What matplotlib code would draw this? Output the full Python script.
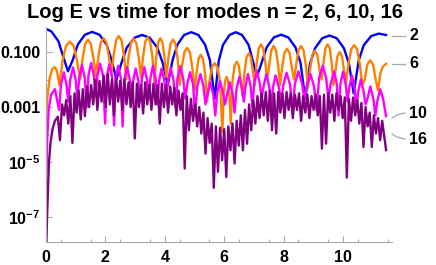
import numpy as np
import matplotlib.pyplot as plt
from matplotlib.lines import Line2D
from matplotlib.ticker import FixedLocator, NullFormatter

# fonts: Arial-like bold everywhere
plt.rcParams['font.family'] = ['Liberation Sans', 'DejaVu Sans']
plt.rcParams['font.weight'] = 'bold'
plt.rcParams['mathtext.fontset'] = 'custom'
plt.rcParams['mathtext.rm'] = 'Liberation Sans:bold'
plt.rcParams['mathtext.bf'] = 'Liberation Sans:bold'

# DATA (time, log10 E)
blue_t = [0, 0.18, 0.42, 0.58, 0.74, 0.90, 1.07, 1.31, 1.555, 1.80, 2.04, 2.21, 2.37,
          2.54, 2.72, 2.98, 3.235, 3.49, 3.75, 3.93, 4.10, 4.26, 4.42, 4.65, 4.89, 5.13,
          5.36, 5.52, 5.68, 5.82, 5.96, 6.18, 6.39, 6.60, 6.82, 6.96, 7.10, 7.26, 7.43,
          7.67, 7.915, 8.16, 8.40, 8.57, 8.73, 8.89, 9.06, 9.30, 9.545, 9.79, 10.03,
          10.20, 10.36, 10.53, 10.70, 10.95, 11.20, 11.45]
blue_logE = [-0.16, -0.25, -0.61, -1.17, -1.7, -1.29, -0.73, -0.37, -0.27, -0.37, -0.73,
             -1.29, -2.0, -1.40, -0.84, -0.48, -0.38, -0.48, -0.84, -1.40, -2.2, -1.30,
             -0.74, -0.38, -0.28, -0.38, -0.74, -1.30, -2.7, -1.30, -0.74, -0.38, -0.28,
             -0.38, -0.74, -1.30, -1.9, -1.39, -0.83, -0.47, -0.37, -0.47, -0.83, -1.39,
             -2.7, -1.42, -0.86, -0.50, -0.40, -0.50, -0.86, -1.42, -2.5, -1.3, -0.75,
             -0.42, -0.33, -0.38]

orange_pts = [
    (0, -3.4), (0.06, -2.5), (0.13, -1.9), (0.21, -1.62), (0.3, -1.55), (0.37, -1.7),
    (0.45, -2.2), (0.555, -1.32), (0.674, -0.77), (0.80, -0.62), (0.926, -0.77),
    (1.045, -1.32), (1.15, -2.0), (1.23, -1.25), (1.32, -0.70), (1.415, -0.55),
    (1.51, -0.70), (1.60, -1.25), (1.68, -1.9), (1.758, -1.2), (1.846, -0.65),
    (1.94, -0.5), (2.034, -0.65), (2.122, -1.2), (2.2, -1.85), (2.275, -1.12),
    (2.36, -0.57), (2.45, -0.42), (2.54, -0.57), (2.625, -1.12), (2.7, -2.0),
    (2.775, -1.22), (2.86, -0.67), (2.95, -0.52), (3.04, -0.67), (3.125, -1.22),
    (3.2, -1.9), (3.268, -1.17), (3.344, -0.62), (3.425, -0.47), (3.506, -0.62),
    (3.583, -1.17), (3.65, -2.1), (3.71, -1.2), (3.778, -0.65), (3.85, -0.5),
    (3.922, -0.65), (3.99, -1.2), (4.05, -1.9), (4.118, -1.25), (4.194, -0.7),
    (4.275, -0.55), (4.356, -0.7), (4.433, -1.25), (4.5, -2.2), (4.575, -1.55),
    (4.66, -1.0), (4.75, -0.85), (4.84, -1.0), (4.925, -1.55), (5.0, -2.4),
    (5.063, -1.8), (5.134, -1.25), (5.21, -1.1), (5.286, -1.25), (5.357, -1.8),
    (5.42, -2.8), (5.498, -2.1), (5.586, -1.55), (5.68, -1.4), (5.774, -1.55),
    (5.862, -2.1), (5.94, -3.9), (5.982, -2.6), (6.03, -2.05), (6.08, -1.9),
    (6.13, -2.05), (6.178, -2.6), (6.22, -3.6), (6.28, -2.05), (6.348, -1.5),
    (6.42, -1.35), (6.492, -1.5), (6.56, -2.05), (6.62, -2.6), (6.682, -1.75),
    (6.751, -1.2), (6.825, -1.05), (6.899, -1.2), (6.969, -1.75), (7.03, -2.2),
    (7.093, -1.42), (7.164, -0.87), (7.24, -0.72), (7.316, -0.87), (7.387, -1.42),
    (7.45, -2.0), (7.515, -1.48), (7.588, -0.93), (7.665, -0.78), (7.742, -0.93),
    (7.816, -1.48), (7.88, -2.2), (7.95, -1.58), (8.03, -1.03), (8.115, -0.88),
    (8.2, -1.03), (8.28, -1.58), (8.35, -2.0), (8.42, -1.48), (8.5, -0.93),
    (8.585, -0.78), (8.67, -0.93), (8.75, -1.48), (8.82, -2.3), (8.889, -1.65),
    (8.967, -1.1), (9.05, -0.95), (9.133, -1.1), (9.211, -1.65), (9.28, -2.0),
    (9.34, -1.42), (9.408, -0.87), (9.48, -0.72), (9.552, -0.87), (9.62, -1.42),
    (9.68, -2.2), (9.743, -1.7), (9.814, -1.15), (9.89, -1.0), (9.966, -1.15),
    (10.037, -1.7), (10.1, -2.1), (10.183, -1.45), (10.276, -0.9), (10.375, -0.75),
    (10.474, -0.9), (10.568, -1.45), (10.65, -2.2), (10.73, -2.0), (10.82, -1.45),
    (10.915, -1.3), (11.01, -1.45), (11.1, -2.0), (11.18, -2.4), (11.26, -1.75),
    (11.35, -1.52), (11.45, -1.43)]

magenta_pts = [
    (0, -5.9), (0.04, -4.2), (0.09, -3.1), (0.17, -2.55), (0.3, -2.35), (0.384, -2.8),
    (0.44, -3.1), (0.504, -2.19), (0.6, -1.74), (0.69, -2.19), (0.75, -2.8),
    (0.814, -2.01), (0.91, -1.56), (1.0, -2.01), (1.06, -2.7), (1.12, -1.93),
    (1.21, -1.48), (1.306, -1.93), (1.37, -3.0), (1.43, -1.85), (1.52, -1.4),
    (1.61, -1.85), (1.67, -2.6), (1.73, -1.87), (1.82, -1.42), (1.922, -1.87),
    (1.99, -3.6), (2.046, -1.9), (2.13, -1.45), (2.226, -1.9), (2.29, -3.66),
    (2.346, -1.95), (2.43, -1.5), (2.52, -1.95), (2.58, -3.7), (2.64, -2.0),
    (2.73, -1.55), (2.82, -2.0), (2.88, -2.5), (2.936, -2.05), (3.02, -1.6),
    (3.11, -2.05), (3.17, -2.8), (3.226, -2.0), (3.31, -1.55), (3.40, -2.0),
    (3.46, -2.6), (3.516, -1.95), (3.6, -1.5), (3.69, -1.95), (3.75, -2.9),
    (3.806, -2.05), (3.89, -1.6), (3.986, -2.05), (4.05, -2.6), (4.11, -2.03),
    (4.2, -1.58), (4.296, -2.03), (4.36, -3.0), (4.424, -1.97), (4.52, -1.52),
    (4.62, -1.97), (4.69, -2.7), (4.754, -2.18), (4.85, -1.73), (4.952, -2.18),
    (5.02, -3.3), (5.092, -2.25), (5.2, -1.8), (5.302, -2.25), (5.37, -2.9),
    (5.434, -2.55), (5.53, -2.1), (5.632, -2.55), (5.7, -3.3), (5.764, -2.5),
    (5.86, -2.05), (5.962, -2.5), (6.03, -2.9), (6.094, -2.55), (6.19, -2.1),
    (6.286, -2.55), (6.35, -3.2), (6.414, -2.35), (6.51, -1.9), (6.6, -2.35),
    (6.66, -2.8), (6.716, -2.25), (6.8, -1.8), (6.89, -2.25), (6.95, -3.0),
    (7.01, -2.13), (7.1, -1.68), (7.196, -2.13), (7.26, -2.7), (7.324, -2.25),
    (7.42, -1.8), (7.516, -2.25), (7.58, -3.1), (7.64, -2.3), (7.73, -1.85),
    (7.844, -2.3), (7.92, -2.8), (7.992, -2.2), (8.1, -1.75), (8.22, -2.2),
    (8.3, -3.2), (8.38, -2.15), (8.5, -1.7), (8.62, -2.15), (8.7, -2.7),
    (8.78, -2.25), (8.9, -1.8), (9.026, -2.25), (9.11, -3.1), (9.194, -1.95),
    (9.32, -1.5), (9.434, -1.95), (9.51, -2.7), (9.586, -2.15), (9.7, -1.7),
    (9.79, -2.15), (9.85, -3.3), (9.91, -2.17), (10.0, -1.72), (10.09, -2.17),
    (10.15, -2.8), (10.21, -2.3), (10.3, -1.85), (10.39, -2.3), (10.45, -3.1),
    (10.51, -2.45), (10.6, -2.0), (10.696, -2.45), (10.76, -2.9), (10.824, -2.7),
    (10.92, -2.25), (11.022, -2.7), (11.09, -3.3), (11.154, -2.8), (11.25, -2.35),
    (11.35, -2.7), (11.45, -3.33)]

purple_rise = [(0, -8.5), (0.03, -7.2), (0.06, -6.2), (0.1, -5.0), (0.15, -4.3),
               (0.22, -3.8), (0.3, -3.5), (0.4, -3.35)]
purple_peak_t = [0.54, 0.68, 0.82, 0.96, 1.10, 1.24, 1.38, 1.52, 1.66, 1.80, 1.94, 2.08,
                 2.22, 2.36, 2.50, 2.64, 2.78, 2.92, 3.06, 3.20, 3.34, 3.48, 3.62, 3.76,
                 3.90, 4.04, 4.18, 4.32, 4.46, 4.60, 4.74, 4.88, 5.02, 5.16, 5.30, 5.44,
                 5.58, 5.72, 5.86, 6.00, 6.14, 6.28, 6.42, 6.56, 6.70, 6.84, 6.98, 7.12,
                 7.26, 7.40, 7.54, 7.68, 7.82, 7.96, 8.10, 8.24, 8.38, 8.52, 8.66, 8.80,
                 8.94, 9.08, 9.22, 9.36, 9.50, 9.64, 9.78, 9.92, 10.06, 10.20, 10.34,
                 10.48, 10.62, 10.76, 10.90, 11.04, 11.18, 11.32]
purple_peak_logE = [-2.9, -2.75, -2.6, -2.5, -2.4, -2.35, -2.25, -2.2, -2.0, -2.05,
                    -1.85, -1.8, -2.0, -1.9, -2.05, -2.0, -2.1, -2.1, -2.15, -2.2,
                    -2.1, -2.2, -2.15, -2.2, -2.15, -2.2, -2.25, -2.3, -2.4, -2.5,
                    -2.6, -2.7, -2.9, -3.0, -3.2, -3.4, -3.6, -3.7, -3.75, -3.8,
                    -3.7, -3.6, -3.5, -3.3, -3.1, -2.9, -2.75, -2.6, -2.5, -2.45,
                    -2.4, -2.5, -2.45, -2.5, -2.45, -2.5, -2.55, -2.5, -2.6, -2.55,
                    -2.6, -2.55, -2.6, -2.55, -2.5, -2.55, -2.5, -2.6, -2.65, -2.7,
                    -2.65, -2.75, -2.85, -3.0, -3.2, -3.3, -3.4, -3.5]
purple_dip_t = [0.47, 0.61, 0.75, 0.89, 1.03, 1.17, 1.31, 1.45, 1.59, 1.73, 1.87, 2.01,
                2.15, 2.29, 2.43, 2.57, 2.71, 2.85, 2.99, 3.13, 3.27, 3.41, 3.55, 3.69,
                3.83, 3.97, 4.11, 4.25, 4.39, 4.53, 4.67, 4.81, 4.95, 5.09, 5.23, 5.37,
                5.51, 5.65, 5.79, 5.93, 6.07, 6.21, 6.35, 6.49, 6.63, 6.77, 6.91, 7.05,
                7.19, 7.33, 7.47, 7.61, 7.75, 7.89, 8.03, 8.17, 8.31, 8.45, 8.59, 8.73,
                8.87, 9.01, 9.15, 9.29, 9.43, 9.57, 9.71, 9.85, 9.99, 10.13, 10.27,
                10.41, 10.55, 10.69, 10.83, 10.97, 11.11, 11.25, 11.45]
purple_dip_logE = [-4.2, -3.3, -3.6, -4.3, -3.2, -3.45, -3.33, -3.0, -2.9, -3.1,
                   -2.8, -3.0, -2.9, -3.3, -2.8, -3.1, -2.9, -3.0, -4.14, -3.0,
                   -3.23, -2.9, -3.1, -2.9, -3.6, -3.0, -3.2, -2.9, -3.3, -3.1,
                   -5.23, -3.84, -3.5, -3.7, -3.96, -4.69, -4.3, -5.93, -5.35, -4.93,
                   -5.54, -4.57, -5.05, -4.4, -4.57, -4.33, -3.84, -3.6, -3.4, -3.3,
                   -3.5, -3.84, -3.96, -3.2, -3.4, -3.1, -3.4, -3.1, -3.5, -3.2,
                   -3.4, -3.1, -3.3, -4.51, -4.33, -3.2, -3.5, -3.1, -3.4, -5.56,
                   -3.5, -3.3, -3.6, -4.45, -3.7, -4.45, -3.96, -4.2, -4.56]

modes = ['2', '6', '10', '16']
colors = ['#0000ff', '#ff8000', '#ff00ff', '#800080']
label_y_px = [36, 64, 113, 139]
x_ticks = [0, 2, 4, 6, 8, 10]
y_ticks = [1e-1, 1e-3, 1e-5, 1e-7]
y_ticklabels = ['0.100', '0.001', r'$\mathbf{10^{-5}}$', r'$\mathbf{10^{-7}}$']

# assemble series
orange = np.array(orange_pts)
magenta = np.array(magenta_pts)
purple = np.vstack([np.array(purple_rise),
                    np.column_stack([purple_peak_t, purple_peak_logE]),
                    np.column_stack([purple_dip_t, purple_dip_logE])])
purple = purple[np.argsort(purple[:, 0])]
series = [(np.array(blue_t), np.array(blue_logE)),
          (orange[:, 0], orange[:, 1]),
          (magenta[:, 0], magenta[:, 1]),
          (purple[:, 0], purple[:, 1])]

W, H = 436, 265
fig = plt.figure(figsize=(W / 100, H / 100), dpi=100)
ax = fig.add_axes([46 / W, 23 / H, 346 / W, 214.75 / H])

for (t, lg), c in zip(series, colors):
    ax.plot(t, 10.0 ** lg, color=c, lw=1.7, solid_joinstyle='round')

ax.set_yscale('log')
ax.set_xlim(0, 11.65)
ax.set_ylim(10 ** -7.9, 10 ** -0.1)

for s in ['top', 'right']:
    ax.spines[s].set_visible(False)
for s in ['left', 'bottom']:
    ax.spines[s].set_color('#aaaaaa')
    ax.spines[s].set_linewidth(0.8)

ax.xaxis.set_major_locator(FixedLocator(x_ticks))
ax.xaxis.set_minor_locator(FixedLocator(np.arange(0.5, 11.6, 1.0)))
ax.set_xticklabels([str(v) for v in x_ticks])
ax.yaxis.set_major_locator(FixedLocator(y_ticks))
ax.yaxis.set_minor_locator(FixedLocator([1e-2, 1e-4, 1e-6]))
ax.yaxis.set_minor_formatter(NullFormatter())
ax.set_yticklabels(y_ticklabels)
ax.tick_params(which='both', direction='in', color='#aaaaaa', width=0.8,
               labelsize=11.5, labelcolor='black')
ax.tick_params(which='major', length=4)
ax.tick_params(which='minor', length=2.5)
ax.tick_params(axis='x', pad=6)
ax.tick_params(axis='y', pad=4)
for lab in ax.get_xticklabels() + ax.get_yticklabels():
    lab.set_fontweight('bold')

fig.text(215 / W, 1 - 18 / H, 'Log E vs time for modes n = 2, 6, 10, 16',
         ha='center', va='baseline', fontsize=14.5, fontweight='bold')

# callout labels at the right
leaders = [[(392, 36), (405, 36)],
           [(392, 64), (405, 64)],
           [(392, 118), (397, 115), (405, 113)],
           [(392, 134), (397, 137), (405, 139)]]
for m, yp, ld in zip(modes, label_y_px, leaders):
    xs = [p[0] / W for p in ld]
    ys = [1 - p[1] / H for p in ld]
    fig.add_artist(Line2D(xs, ys, transform=fig.transFigure, color='#aaaaaa', lw=0.9))
    fig.text(409 / W, 1 - yp / H, m, ha='left', va='center', fontsize=11.5,
             fontweight='bold')

fig.savefig('out.png', dpi=100)
